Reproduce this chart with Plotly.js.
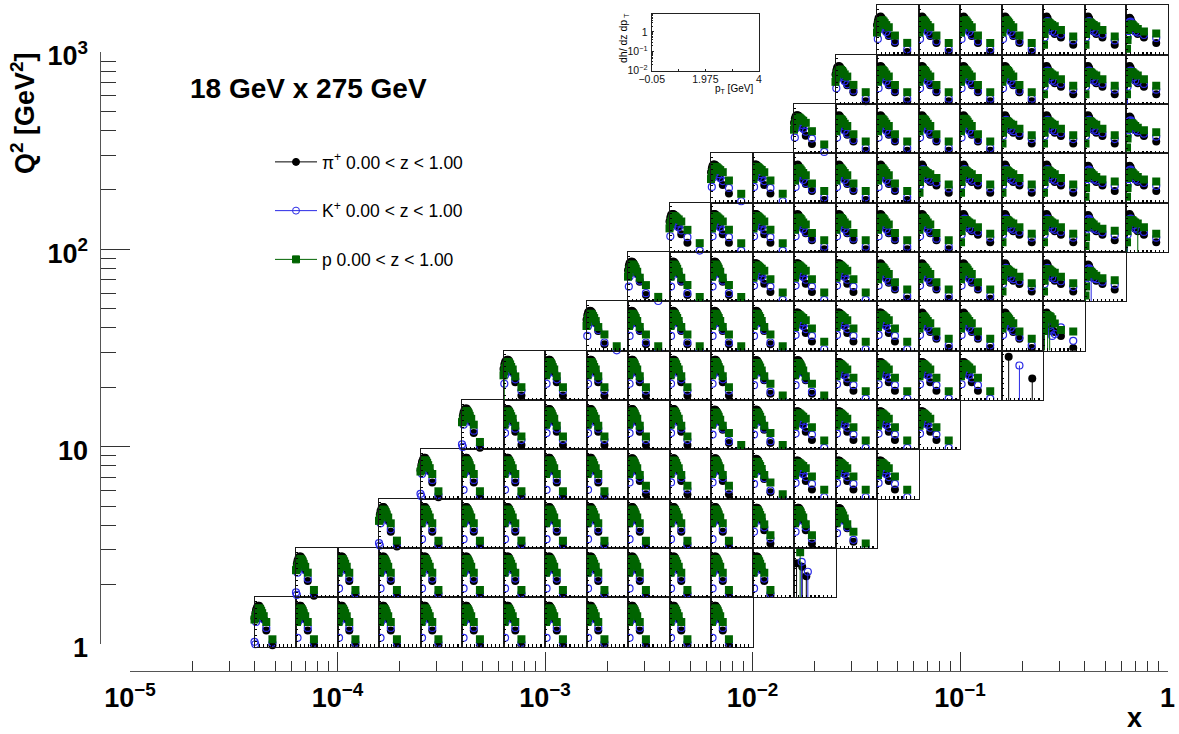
<!DOCTYPE html>
<html><head><meta charset="utf-8">
<script src="https://cdn.plot.ly/plotly-3.0.0.min.js"></script>
<style>html,body{margin:0;padding:0;background:#fff}</style></head>
<body><div id="g" style="width:1179px;height:734px"></div>
<script>
// pT bin centres [GeV]
const pTbins  = [0.05,0.1,0.15,0.2,0.3,0.4,0.5,0.6,0.7,0.85,1.1,1.7,2.9];
const pTfirst = [-0.05,0.03,0.1,0.2,0.3,0.4,0.5,0.6,0.7,0.85,1.1,1.7,2.9];

// dh/dz dpT, grouped by the panel shapes that recur across the grid
const pi0=[.67,1.16,1.75,2.3,2.8,2.8,2.3,1.63,1.01,.44,.094,.0123,null];
const K0 =[null,.034,.30,.59,.83,1.16,1.33,1.16,.67,.42,.132,.017,null];
const p0 =[.30,.51,.83,1.16,1.63,2.0,1.75,1.4,1.01,.67,.30,.0277,null];
const piF=[.51,1.01,1.63,2.3,2.8,2.8,2.3,1.63,1.01,.44,.094,.0123,null];
const KF =[.0197,.014,.30,.59,.83,1.16,1.33,1.16,.67,.42,.132,.017,null];
const pF =[.42,.51,.77,1.16,1.63,2.0,1.75,1.4,1.01,.67,.30,.0277,null];
const pi1=[.72,1.33,1.9,2.3,2.6,2.6,2.2,1.55,1.01,.48,.115,.0185,null];
const K1 =[null,.094,.30,.59,.83,1.16,1.33,1.16,.72,.42,.173,.036,null];
const p1 =[.30,.51,.83,1.16,1.5,1.9,1.63,1.33,.95,.67,.26,.0585,null];
const pi2=[.72,1.33,1.9,2.3,2.45,2.3,1.9,1.33,.89,.44,.151,.024,null];
const K2 =[null,.077,.30,.59,.83,1.16,1.33,1.01,.67,.42,.173,.031,.0105];
const p2 =[.30,.51,.83,1.16,1.4,1.63,1.4,1.16,.89,.59,.26,.094,.0185];
const pi3=[.67,1.16,1.63,1.9,1.9,1.75,1.33,.95,.59,.30,.115,.036,null];
const K3 =[null,.088,.30,.59,.83,1.01,1.01,.77,.51,.30,.197,.077,.0122];
const p3 =[.26,.45,.67,1.01,1.33,1.4,1.33,1.16,1.01,.89,.67,.212,.034];
const pi4=[.59,1.01,1.5,1.75,1.9,1.63,1.16,.83,.51,.26,.132,.051,.0145];
const K4 =[null,.088,.30,.51,.67,.95,.89,.59,.42,.228,.151,.063,.021];
const p4 =[.212,.42,.67,.89,1.1,1.16,1.1,.95,.77,.59,.44,.14,.051];
const pi5=[.51,.89,1.33,1.75,1.9,1.5,1.01,.67,.42,.245,.173,.108,.039];
const K5 =[null,.108,.30,.51,.89,1.01,.89,.59,.39,.26,.212,.16,.072];
const p5 =[.039,.173,.42,.67,.77,.83,.83,.77,.67,.59,.51,.30,.123];
const pi6=[.42,.77,1.16,1.5,1.63,1.33,.89,.59,.37,.245,.173,.108,.051];
const K6 =[null,.108,.26,.59,.89,.95,.77,.51,.34,.245,.212,.151,.10];
const p6 =[.0226,.077,.30,.51,.59,.63,.63,.59,.51,.44,.34,.245,.185];
const piY=[null,null,1.16,1.63,1.9,1.5,1.16,.59,.30,.173,.132,.077,.0145];
const KY =[null,null,.151,.42,.67,.89,.59,.30,.151,.077,.10,.245,.039];
const pY =[.151,.42,.89,1.16,1.33,1.33,1.16,1.16,1.01,.77,.42,.173,.14];
// sparse panels
const pTsparseT=[0.2,0.55,0.7,0.75,1.15,1.3];
const piT=[1.08,null,null,.67,.185,null];
const KT =[null,null,1.33,null,null,.34];
const pT_=[null,4.9,null,null,null,null];
const pTsparseX=[0.65,1.7,2.95];
const piX=[3.9,null,.197];
const KX =[null,1.16,null];
const pX =[null,null,null];

// Which shape each grid panel shows, one string per Q2 row (bottom to top), one char per x bin
const firstColumn=[3,4,6,7,8,9,11,12,13,14,16,17,18];
const rowShapes=["F00000000000","F00000000000T","F00000000112","F00001112333","F11111223333",
 "G11111223333X","22222333444Y","22233344455Z","33344445556W","33444555566","344445556","4444455V","4444556"];
const shapes={F:[piF,KF,pF],0:[pi0,K0,p0],1:[pi1,K1,p1],2:[pi2,K2,p2],3:[pi3,K3,p3],4:[pi4,K4,p4],5:[pi5,K5,p5],6:[pi6,K6,p6],
 Y:[piY,KY,pY],Z:[pi6,K6,p6],W:[pi5,K5,p5],V:[pi5,K5,p5],G:[pi1,K1,p1],T:[piT,KT,pT_],X:[piX,KX,pX]};
// points whose lower error bar runs off the panel bottom: shape -> [pi idx],[K idx],[p idx]
const longErrors={T:[[0,3,4],[2,5],[1]],X:[[0,2],[1],[]],Y:[[],[],[1,5,7]],Z:[[],[7],[0]],W:[[],[1],[0,10]],V:[[],[1],[]],G:[[],[],[1]]};

const xTickVals=[1e-5,1e-4,1e-3,1e-2,1e-1,1];
const xTickText=["10<sup>\u22125</sup>","10<sup>\u22124</sup>","10<sup>\u22123</sup>","10<sup>\u22122</sup>","10<sup>\u22121</sup>","1"];
const yTickVals=[1,10,100,1000];
const yTickText=["1","10","10<sup>2</sup>","10<sup>3</sup>"];
const legendNames=["\u03c0<sup>+</sup> 0.00 < z < 1.00","K<sup>+</sup> 0.00 < z < 1.00","p 0.00 < z < 1.00"];

const W=1179,H=734,FONT='"Liberation Sans",Arial,sans-serif';
const COL=['#000000','#2a2ae6','#006400'];
const px=x=>x/W, py=y=>1-y/H;
const ann=(text,x,y,size,extra)=>Object.assign({text,x:px(x),y:py(y),xref:'paper',yref:'paper',xanchor:'center',yanchor:'middle',showarrow:false,font:{size}},extra||{});
const layout={width:W,height:H,margin:{l:0,r:0,t:0,b:0},paper_bgcolor:'#fff',plot_bgcolor:'rgba(0,0,0,0)',
 font:{family:FONT,color:'#000'},showlegend:true,
 legend:{x:px(270),y:py(144),xanchor:'left',yanchor:'top',bgcolor:'rgba(0,0,0,0)',traceorder:'grouped',tracegroupgap:23,itemwidth:42,font:{size:17.5,family:FONT}},
 xaxis:{type:'log',range:[-5,0],domain:[px(130),px(1167.5)],anchor:'free',position:py(670.7),showgrid:false,zeroline:false,showline:true,linecolor:'#555',linewidth:1,
  ticks:'inside',ticklen:19,tickcolor:'#333',tickvals:xTickVals,ticktext:xTickText,tickfont:{size:27,weight:'bold',family:FONT},ticklabelstandoff:3,
  minor:{ticks:'inside',ticklen:10,dtick:'D1',tickcolor:'#333',showgrid:false}},
 yaxis:{type:'log',range:[0,3],domain:[py(644),py(52)],anchor:'free',position:px(99.5),showgrid:false,zeroline:false,showline:true,linecolor:'#555',linewidth:1,
  ticks:'inside',ticklen:29,tickcolor:'#333',tickvals:yTickVals,ticktext:yTickText,tickfont:{size:27,weight:'bold',family:FONT},ticklabelstandoff:6,ticklabelshift:4,
  minor:{ticks:'inside',ticklen:15,dtick:'D1',tickcolor:'#333',showgrid:false}},
 annotations:[
  ann('<b>18 GeV x 275 GeV</b>',308.5,89,28),
  ann('<b>Q<sup>2</sup> [GeV<sup>2</sup>]</b>',23,113,27,{textangle:-90}),
  ann('<b>x</b>',1134,718,27),
  ann('dh/ dz dp<sub> T</sub>',624,38,10.5,{textangle:-90}),
  ann('p<sub>T</sub> [GeV]',734,89,10)
 ]};
const traces=[];
// legend entries
[0,1,2].forEach(i=>traces.push({x:[null],y:[null],xaxis:'x',yaxis:'y',name:legendNames[i],legendgroup:'g'+i,mode:'lines+markers',
  line:{color:COL[i],width:1},marker:{color:COL[i],size:7,symbol:['circle','circle-open','square'][i],line:{color:COL[i],width:1}}}));
// inset (empty frame)
layout.xaxis2={domain:[px(651.7),px(759)],range:[-0.05,4],anchor:'y2',showgrid:false,zeroline:false,showline:true,mirror:true,linecolor:'#222',
  ticks:'inside',ticklen:2,tickcolor:'#222',tickvals:[-0.05,1.975,4],ticktext:['\u22120.05','1.975','4'],tickfont:{size:10.5,color:'#111'},ticklabelstandoff:-1,
  minor:{ticks:'inside',ticklen:1.5,tickvals:[0.9625,2.9875],tickcolor:'#222'}};
layout.yaxis2={type:'log',domain:[py(70.5),py(13.5)],range:[-2,0.96],anchor:'x2',showgrid:false,zeroline:false,showline:true,mirror:true,linecolor:'#222',
  ticks:'inside',ticklen:2.5,tickcolor:'#222',tickvals:[0.01,0.1,1],ticktext:['10<sup>\u22122</sup>','10<sup>\u22121</sup>','1'],tickfont:{size:10.5,color:'#111'},ticklabelstandoff:1,
  minor:{ticks:'inside',ticklen:1.5,dtick:'D1',tickcolor:'#222'}};
traces.push({x:[null],y:[null],xaxis:'x2',yaxis:'y2',showlegend:false,mode:'markers'});
// panel grid
const binW=207.5/5, binH=197.33/4;
let n=3;
rowShapes.forEach((row,r)=>{
  [...row].forEach((code,j)=>{
    const c=firstColumn[r]+j;
    const x0=130+binW*c, yb=646.7-binH*r;
    const tag=n++;
    layout['xaxis'+tag]={domain:[px(x0),px(x0+binW)],range:[-0.05,4],anchor:'y'+tag,showgrid:false,zeroline:false,showline:true,mirror:true,
      linecolor:'#1a1a1a',linewidth:1,ticks:'inside',ticklen:2.5,tickwidth:1.2,tickcolor:'#000',dtick:0.4,tick0:0,showticklabels:false};
    layout['yaxis'+tag]={type:'log',domain:[py(yb),py(yb-binH)],range:[-2,0.95],anchor:'x'+tag,showgrid:false,zeroline:false,showline:true,mirror:true,
      linecolor:'#1a1a1a',linewidth:1,ticks:'inside',ticklen:2,tickcolor:'#000',dtick:'D2',showticklabels:false};
    const vals=shapes[code];
    const xs=code==='T'?pTsparseT:code==='X'?pTsparseX:(j===0?pTfirst:pTbins);
    [0,1,2].forEach(s=>{
      const ys=vals[s];
      if(!ys.some(v=>v!==null)) return;
      const t={x:xs,y:ys,xaxis:'x'+tag,yaxis:'y'+tag,mode:'markers',showlegend:false,hoverinfo:'skip',cliponaxis:j!==0,
        marker:{color:COL[s],size:s==2?8:s==1?7:8,symbol:['circle','circle-open','square'][s],line:{color:COL[s],width:s==1?1.2:0}}};
      const le=longErrors[code];
      if(le&&le[s].length){
        t.error_y={type:'data',symmetric:false,array:ys.map(()=>0),
          arrayminus:ys.map((v,i)=>le[s].includes(i)&&v!==null?v-0.0101:0),color:COL[s],thickness:1,width:0};
      }
      traces.push(t);
    });
  });
});
Plotly.newPlot('g',traces,layout,{staticPlot:true,displayModeBar:false});
</script></body></html>
